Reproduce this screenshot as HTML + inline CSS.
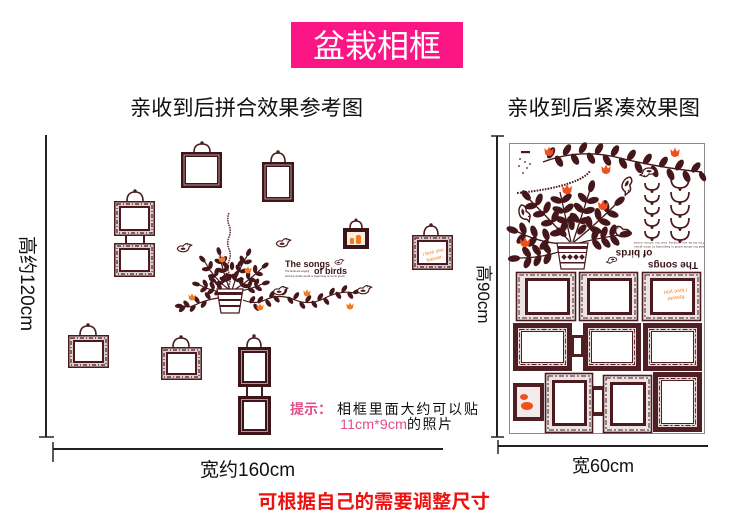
<!DOCTYPE html>
<html><head><meta charset="utf-8">
<style>
html,body{margin:0;padding:0;background:#fff;}
svg{display:block;}
text{font-family:"Liberation Sans","Noto Sans CJK SC",sans-serif;}
</style></head><body>
<svg width="750" height="524" viewBox="0 0 750 524" xmlns="http://www.w3.org/2000/svg">
<defs>
 <ellipse id="L" cx="4" cy="0" rx="4.1" ry="2.2" fill="#45161a"/>
 <path id="F" d="M-3,0 L-3.6,-4.5 L-1.5,-2.6 L0,-5.6 L1.5,-2.6 L3.6,-4.5 L3,0 Q0,3 -3,0Z" fill="#f27a22"/>
 <path id="F2" d="M-3,0 L-3.6,-4.5 L-1.5,-2.6 L0,-5.6 L1.5,-2.6 L3.6,-4.5 L3,0 Q0,3 -3,0Z" fill="#f0501e"/>
 <g id="B">
  <path d="M-7,1 Q-6,-3 -1,-2 Q2,-6 5,-4 L8,-3 L5.5,-1.5 Q5,4 -1,4 Q-5,4 -7,1Z" fill="#fff" stroke="#4a1a1e" stroke-width="1.2"/>
  <path d="M-4,1 Q-1,-2 2,1 Q-1,3 -4,1Z" fill="#4a1a1e"/>
  <circle cx="3.5" cy="-3.3" r="0.6" fill="#4a1a1e"/>
 </g>
</defs>

<!-- Title -->
<rect x="291" y="22" width="172" height="46" fill="#fc1685"/>
<text x="377" y="57" text-anchor="middle" font-size="32" fill="#fff">盆栽相框</text>

<text x="130" y="115" font-size="21" fill="#111" textLength="233" lengthAdjust="spacingAndGlyphs">亲收到后拼合效果参考图</text>
<text x="507" y="115" font-size="21" fill="#111" textLength="193" lengthAdjust="spacingAndGlyphs">亲收到后紧凑效果图</text>

<!-- Left dimension lines -->
<line x1="46" y1="135" x2="46" y2="437" stroke="#222" stroke-width="2"/>
<line x1="39" y1="437" x2="54" y2="437" stroke="#222" stroke-width="1.5"/>
<line x1="53" y1="449" x2="443" y2="449" stroke="#222" stroke-width="2"/>
<line x1="53" y1="442" x2="53" y2="462" stroke="#222" stroke-width="1.5"/>
<text transform="translate(21,236) rotate(90)" font-size="19" fill="#111">高约120cm</text>
<text x="200" y="476" font-size="19" fill="#111">宽约160cm</text>

<!-- Right dimension lines -->
<line x1="497" y1="136" x2="497" y2="437" stroke="#222" stroke-width="2"/>
<line x1="491" y1="136" x2="504" y2="136" stroke="#222" stroke-width="1.5"/>
<line x1="491" y1="437" x2="504" y2="437" stroke="#222" stroke-width="1.5"/>
<line x1="498" y1="446" x2="708" y2="446" stroke="#222" stroke-width="2"/>
<line x1="498" y1="440" x2="498" y2="454" stroke="#222" stroke-width="1.5"/>
<text transform="translate(478,265) rotate(90)" font-size="17" fill="#111">高90cm</text>
<text x="572" y="472" font-size="18" fill="#111">宽60cm</text>

<!-- Bottom red text -->
<text x="258" y="508" font-size="19" font-weight="bold" fill="#ee1111" textLength="232" lengthAdjust="spacingAndGlyphs">可根据自己的需要调整尺寸</text>

<!-- Tips -->
<text x="290" y="414" font-size="14" fill="#e0508a" font-weight="bold">提示：</text>
<text x="337" y="414" font-size="14" fill="#111" textLength="141" lengthAdjust="spacing">相框里面大约可以贴</text>
<text x="340" y="429" font-size="14" fill="#e0508a" font-family="Liberation Mono, monospace" textLength="67" lengthAdjust="spacingAndGlyphs">11cm*9cm</text>
<text x="407" y="429" font-size="14" fill="#111" textLength="45" lengthAdjust="spacing">的照片</text>

<!-- ===== LEFT COMPOSITION ===== -->
<g stroke-linecap="round">
<g fill="none" stroke="#4a1a1e" stroke-width="1.6">
 <path d="M194,152 Q194,144 202,144 Q210,144 210,152"/>
 <path d="M271,162 Q271,153 278,153 Q285,153 285,162"/>
 <path d="M127,201 Q127,192 135,192 Q143,192 143,201"/>
 <path d="M350,228 Q350,221 356,221 Q362,221 362,228"/>
 <path d="M424,235 Q424,226 431,226 Q438,226 438,235"/>
 <path d="M80,335 Q80,326 88,326 Q96,326 96,335"/>
 <path d="M173,347 Q173,338 181,338 Q189,338 189,347"/>
 <path d="M247,347 Q247,338 254,338 Q261,338 261,347"/>
</g>
<g fill="#4a1a1e">
 <circle cx="202" cy="143" r="1.7"/><circle cx="278" cy="152" r="1.7"/>
 <circle cx="135" cy="191" r="1.7"/><circle cx="356" cy="220" r="1.5"/>
 <circle cx="431" cy="225" r="1.7"/><circle cx="88" cy="325" r="1.7"/>
 <circle cx="181" cy="337" r="1.7"/><circle cx="254" cy="336" r="1.7"/>
</g>
</g>

<!-- Frame 1 dark -->
<rect x="181" y="152" width="41" height="36" fill="#3f1418"/>
<rect x="184" y="155" width="35" height="30" fill="none" stroke="#cdb8b8" stroke-width="0.8"/>
<rect x="186" y="157" width="31" height="26" fill="#fff"/>
<!-- Frame 2 dark -->
<rect x="262" y="162" width="32" height="40" fill="#3f1418"/>
<rect x="265" y="165" width="26" height="34" fill="none" stroke="#cdb8b8" stroke-width="0.8"/>
<rect x="267" y="167" width="22" height="30" fill="#fff"/>

<!-- Frame 3 stacked ornate -->
<rect x="125" y="235" width="2" height="9" fill="#4a1a1e"/>
<rect x="143" y="235" width="2" height="9" fill="#4a1a1e"/>
<g>
 <rect x="114.75" y="201.75" width="39.5" height="33.5" fill="#ddd0d0" stroke="#4a1a1e" stroke-width="1.5"/>
 <rect x="117" y="204" width="35" height="29" fill="none" stroke="#4a1a1e" stroke-width="1.2" stroke-dasharray="4 2 1 2"/>
 <rect x="119" y="206" width="31" height="25" fill="#4a1a1e"/>
 <rect x="121" y="208" width="27" height="21" fill="#fff"/>
</g>
<g>
 <rect x="114.75" y="243.75" width="39.5" height="32.5" fill="#ddd0d0" stroke="#4a1a1e" stroke-width="1.5"/>
 <rect x="117" y="246" width="35" height="28" fill="none" stroke="#4a1a1e" stroke-width="1.2" stroke-dasharray="4 2 1 2"/>
 <rect x="119" y="248" width="31" height="24" fill="#4a1a1e"/>
 <rect x="121" y="250" width="27" height="20" fill="#fff"/>
</g>
<!-- Frame 6 ornate -->
<g>
 <rect x="68.75" y="335.75" width="39.5" height="31.5" fill="#ddd0d0" stroke="#4a1a1e" stroke-width="1.5"/>
 <rect x="71" y="338" width="35" height="27" fill="none" stroke="#4a1a1e" stroke-width="1.2" stroke-dasharray="4 2 1 2"/>
 <rect x="73" y="340" width="31" height="23" fill="#4a1a1e"/>
 <rect x="75" y="342" width="27" height="19" fill="#fff"/>
</g>
<!-- Frame 7 ornate -->
<g>
 <rect x="161.75" y="347.75" width="39.5" height="31.5" fill="#ddd0d0" stroke="#4a1a1e" stroke-width="1.5"/>
 <rect x="164" y="350" width="35" height="27" fill="none" stroke="#4a1a1e" stroke-width="1.2" stroke-dasharray="4 2 1 2"/>
 <rect x="166" y="352" width="31" height="23" fill="#4a1a1e"/>
 <rect x="168" y="354" width="27" height="19" fill="#fff"/>
</g>
<!-- Frame 8 stacked dark -->
<rect x="246" y="386" width="2" height="11" fill="#4a1a1e"/>
<rect x="261" y="386" width="2" height="11" fill="#4a1a1e"/>
<rect x="238" y="347" width="33" height="40" fill="#3f1418"/>
<rect x="241.5" y="350.5" width="26" height="33" fill="none" stroke="#cdb8b8" stroke-width="0.8"/>
<rect x="244" y="353" width="21" height="28" fill="#fff"/>
<rect x="238" y="396" width="33" height="39" fill="#3f1418"/>
<rect x="241.5" y="399.5" width="26" height="32" fill="none" stroke="#cdb8b8" stroke-width="0.8"/>
<rect x="244" y="402" width="21" height="27" fill="#fff"/>

<!-- Frame 4 small orange -->
<rect x="343" y="228" width="26" height="21" fill="#3f1418"/>
<rect x="347" y="232" width="18" height="13" fill="#f6efe0"/>
<rect x="350" y="238" width="4" height="6" rx="1.5" fill="#f07a20"/>
<rect x="356" y="235" width="5" height="9" rx="2" fill="#f07a20"/>

<!-- Frame 5 ornate with text -->
<g>
 <rect x="412.75" y="235.75" width="39.5" height="33.5" fill="#d8caca" stroke="#4a1a1e" stroke-width="1.5"/>
 <rect x="415" y="238" width="35" height="29" fill="none" stroke="#4a1a1e" stroke-width="1.2" stroke-dasharray="4 2 1 2"/>
 <rect x="417" y="240" width="31" height="25" fill="#4a1a1e"/>
 <rect x="419" y="242" width="27" height="21" fill="#fff"/>
 <text transform="translate(423,256) rotate(-14)" font-size="5" fill="#f07a20" font-family="Liberation Serif, serif">I love you</text>
 <text transform="translate(427,262) rotate(-14)" font-size="5" fill="#f07a20" font-family="Liberation Serif, serif">forever</text>
</g>

<!-- Left plant -->
<path d="M229,213 q-2.5,6 0,12 q2.5,6 0,12 q-2.5,6 0,12 q2.5,6 0,12 q-2.5,6 0,12 q2.5,6 0,12 l0,5" fill="none" stroke="#6a3a3e" stroke-width="1.6" stroke-dasharray="1.6 0.8"/>
<g fill="none" stroke="#45161a" stroke-width="1.2">
 <path d="M230,290 Q215,280 205,262"/>
 <path d="M230,290 Q222,270 220,255"/>
 <path d="M232,290 Q238,270 247,256"/>
 <path d="M234,290 Q250,280 262,268"/>
 <path d="M234,292 Q250,290 262,284"/>
 <path d="M228,292 Q212,292 200,285"/>
 <path d="M218,298 Q205,300 195,305 Q190,308 183,306"/>
 <path d="M243,300 Q255,305 265,300 Q280,293 295,300 Q310,306 325,298 Q340,290 355,293"/>
</g>
<g>
 <use href="#L" transform="translate(223 283) rotate(-82)"/><use href="#L" transform="translate(223 283) rotate(178)"/>
 <use href="#L" transform="translate(216 276) rotate(-82)"/><use href="#L" transform="translate(216 276) rotate(178)"/>
 <use href="#L" transform="translate(210 269) rotate(-82)"/><use href="#L" transform="translate(210 269) rotate(178)"/>
 <use href="#L" transform="translate(205 262) rotate(-132)"/>
 <use href="#L" transform="translate(227 281) rotate(-56)"/><use href="#L" transform="translate(227 281) rotate(-156)"/>
 <use href="#L" transform="translate(224 272) rotate(-56)"/><use href="#L" transform="translate(224 272) rotate(-156)"/>
 <use href="#L" transform="translate(222 263) rotate(-56)"/><use href="#L" transform="translate(222 263) rotate(-156)"/>
 <use href="#L" transform="translate(220 255) rotate(-106)"/>
 <use href="#L" transform="translate(236 281) rotate(-16)"/><use href="#L" transform="translate(236 281) rotate(-116)"/>
 <use href="#L" transform="translate(240 272) rotate(-16)"/><use href="#L" transform="translate(240 272) rotate(-116)"/>
 <use href="#L" transform="translate(244 263) rotate(-16)"/><use href="#L" transform="translate(244 263) rotate(-116)"/>
 <use href="#L" transform="translate(247 256) rotate(-66)"/>
 <use href="#L" transform="translate(241 285) rotate(12)"/><use href="#L" transform="translate(241 285) rotate(-88)"/>
 <use href="#L" transform="translate(248 279) rotate(12)"/><use href="#L" transform="translate(248 279) rotate(-88)"/>
 <use href="#L" transform="translate(255 273) rotate(12)"/><use href="#L" transform="translate(255 273) rotate(-88)"/>
 <use href="#L" transform="translate(262 268) rotate(-38)"/>
 <use href="#L" transform="translate(248 288) rotate(34)"/><use href="#L" transform="translate(248 288) rotate(-66)"/>
 <use href="#L" transform="translate(255 286) rotate(34)"/><use href="#L" transform="translate(255 286) rotate(-66)"/>
 <use href="#L" transform="translate(262 284) rotate(-16)"/>
 <use href="#L" transform="translate(221 290) rotate(-116)"/><use href="#L" transform="translate(221 290) rotate(144)"/>
 <use href="#L" transform="translate(214 289) rotate(-116)"/><use href="#L" transform="translate(214 289) rotate(144)"/>
 <use href="#L" transform="translate(207 287) rotate(-116)"/><use href="#L" transform="translate(207 287) rotate(144)"/>
 <use href="#L" transform="translate(200 285) rotate(-166)"/>
 <use href="#L" transform="translate(232 270) rotate(-90)"/><use href="#L" transform="translate(230 280) rotate(-120)"/>
 <use href="#L" transform="translate(234 278) rotate(-60)"/><use href="#L" transform="translate(228 268) rotate(-130)"/>
 <use href="#L" transform="translate(238 266) rotate(-50)"/><use href="#L" transform="translate(216 282) rotate(-150)"/>
 <!-- left vine -->
 <use href="#L" transform="translate(210 299) rotate(-125)"/><use href="#L" transform="translate(206 301) rotate(125)"/>
 <use href="#L" transform="translate(199 303) rotate(-125)"/><use href="#L" transform="translate(195 305) rotate(125)"/>
 <use href="#L" transform="translate(189 307) rotate(-130)"/><use href="#L" transform="translate(185 306) rotate(135)"/>
 <use href="#L" transform="translate(183 306) rotate(180)"/>
 <!-- right vine -->
 <use href="#L" transform="translate(250 303) rotate(-55)"/><use href="#L" transform="translate(254 304) rotate(55)"/>
 <use href="#L" transform="translate(258 303) rotate(-55)"/><use href="#L" transform="translate(266 300) rotate(55)"/>
 <use href="#L" transform="translate(270 298) rotate(-60)"/><use href="#L" transform="translate(274 296) rotate(50)"/>
 <use href="#L" transform="translate(282 295) rotate(-55)"/><use href="#L" transform="translate(288 297) rotate(55)"/>
 <use href="#L" transform="translate(294 299) rotate(-55)"/><use href="#L" transform="translate(300 302) rotate(55)"/>
 <use href="#L" transform="translate(306 302) rotate(-55)"/><use href="#L" transform="translate(312 301) rotate(55)"/>
 <use href="#L" transform="translate(318 300) rotate(-55)"/><use href="#L" transform="translate(324 298) rotate(55)"/>
 <use href="#L" transform="translate(330 295) rotate(-60)"/><use href="#L" transform="translate(336 292) rotate(55)"/>
 <use href="#L" transform="translate(342 292) rotate(-55)"/><use href="#L" transform="translate(348 292) rotate(55)"/>
 <use href="#L" transform="translate(353 293) rotate(-20)"/>
</g>
<!-- left pot -->
<path d="M217,289 L243,289 L239,313 L221,313 Z" fill="#fff" stroke="#4a1a1e" stroke-width="1.2"/>
<rect x="218" y="292" width="24" height="3" fill="#4a1a1e"/>
<rect x="219" y="299" width="22" height="2" fill="#4a1a1e"/>
<rect x="220" y="305" width="20" height="2" fill="#4a1a1e"/>
<!-- flowers -->
<use href="#F" transform="translate(222 261)"/>
<use href="#F" transform="translate(248 272)"/>
<use href="#F" transform="translate(192 299)"/>
<use href="#F" transform="translate(260 309)"/>
<use href="#F" transform="translate(307 295)"/>
<use href="#F" transform="translate(350 308)"/>
<!-- birds -->
<use href="#B" transform="translate(184 248) scale(0.95)"/>
<use href="#B" transform="translate(283 243) scale(0.95)"/>
<use href="#B" transform="translate(280 291) scale(0.95)"/>
<use href="#B" transform="translate(364 290) scale(0.95)"/>
<use href="#B" transform="translate(339 262) scale(0.6)"/>
<!-- songs text -->
<text x="285" y="267" font-size="9" font-weight="bold" fill="#3a1418" font-family="Liberation Serif, serif">The songs</text>
<text x="314" y="274" font-size="9" font-weight="bold" fill="#3a1418" font-family="Liberation Serif, serif">of birds</text>
<text x="285" y="272" font-size="2.6" fill="#3a1418">The birds are singing</text>
<text x="285" y="277" font-size="2.6" fill="#3a1418" textLength="60">and the whole world is beginning to come green</text>

<!-- ===== RIGHT SHEET ===== -->
<rect x="509.5" y="143.5" width="195" height="290" fill="#fff" stroke="#8a8a8a" stroke-width="1"/>

<rect x="521" y="151" width="9" height="2.2" fill="#4a1a1e"/>
<g fill="#4a1a1e">
 <circle cx="520" cy="159" r="0.9"/><circle cx="525" cy="162" r="0.9"/><circle cx="519" cy="166" r="0.9"/>
 <circle cx="527" cy="168" r="0.9"/><circle cx="523" cy="173" r="0.9"/><circle cx="530" cy="164" r="0.9"/>
</g>
<path d="M517,193 Q550,190 570,183 Q585,178 590,171" fill="none" stroke="#4a1a1e" stroke-width="2" stroke-dasharray="1.6 1.2"/>
<path d="M543,162 Q580,148 620,158 Q660,168 702,172" fill="none" stroke="#45161a" stroke-width="1.4"/>
<g>
 <use href="#L" transform="translate(548 158) rotate(-60) scale(1.5)"/>
 <use href="#L" transform="translate(556 156) rotate(60) scale(1.5)"/>
 <use href="#L" transform="translate(564 155) rotate(-60) scale(1.5)"/>
 <use href="#L" transform="translate(572 154) rotate(60) scale(1.5)"/>
 <use href="#L" transform="translate(580 153) rotate(-60) scale(1.5)"/>
 <use href="#L" transform="translate(588 153) rotate(60) scale(1.5)"/>
 <use href="#L" transform="translate(596 154) rotate(-60) scale(1.5)"/>
 <use href="#L" transform="translate(604 155) rotate(60) scale(1.5)"/>
 <use href="#L" transform="translate(612 156) rotate(-60) scale(1.5)"/>
 <use href="#L" transform="translate(620 158) rotate(60) scale(1.5)"/>
 <use href="#L" transform="translate(628 160) rotate(-55) scale(1.5)"/>
 <use href="#L" transform="translate(636 162) rotate(65) scale(1.5)"/>
 <use href="#L" transform="translate(644 164) rotate(-55) scale(1.5)"/>
 <use href="#L" transform="translate(652 166) rotate(65) scale(1.5)"/>
 <use href="#L" transform="translate(660 167) rotate(-55) scale(1.5)"/>
 <use href="#L" transform="translate(668 169) rotate(65) scale(1.5)"/>
 <use href="#L" transform="translate(676 170) rotate(-55) scale(1.5)"/>
 <use href="#L" transform="translate(684 171) rotate(65) scale(1.5)"/>
 <use href="#L" transform="translate(692 172) rotate(-50) scale(1.5)"/>
 <use href="#L" transform="translate(700 172) rotate(60) scale(1.3)"/>
</g>
<use href="#F2" transform="translate(549 154) scale(1.3)"/>
<use href="#F2" transform="translate(606 172) scale(1.3)"/>
<use href="#F2" transform="translate(675 155) scale(1.3)"/>

<g fill="none" stroke="#4a1a1e" stroke-width="1.7">
 <path d="M645,183 Q645,190 652,190 Q659,190 659,183"/>
 <path d="M645,195 Q645,202 652,202 Q659,202 659,195"/>
 <path d="M645,207 Q645,214 652,214 Q659,214 659,207"/>
 <path d="M645,219 Q645,226 652,226 Q659,226 659,219"/>
 <path d="M645,231 Q645,238 652,238 Q659,238 659,231"/>
 <path d="M671,178 Q671,188 680,188 Q689,188 689,178"/>
 <path d="M671,192 Q671,202 680,202 Q689,202 689,192"/>
 <path d="M671,205 Q671,215 680,215 Q689,215 689,205"/>
 <path d="M671,218 Q671,228 680,228 Q689,228 689,218"/>
 <path d="M671,231 Q671,240 680,240 Q689,240 689,231"/>
</g>
<g fill="#4a1a1e">
 <circle cx="652" cy="191.5" r="1.5"/><circle cx="652" cy="203.5" r="1.5"/><circle cx="652" cy="215.5" r="1.5"/>
 <circle cx="652" cy="227.5" r="1.5"/><circle cx="652" cy="239.5" r="1.5"/>
 <circle cx="680" cy="189.5" r="1.5"/><circle cx="680" cy="203.5" r="1.5"/><circle cx="680" cy="216.5" r="1.5"/>
 <circle cx="680" cy="229.5" r="1.5"/><circle cx="680" cy="241.5" r="1.5"/>
</g>

<use href="#B" transform="translate(627 185) rotate(120) scale(1.2)"/>
<use href="#B" transform="translate(524 213) rotate(80) scale(1.2)"/>
<use href="#B" transform="translate(622 232) scale(-1.2 1.2)"/>
<use href="#B" transform="translate(648 172) rotate(180) scale(1)"/>

<!-- right plant -->
<g fill="none" stroke="#45161a" stroke-width="1.3">
 <path d="M572,244 Q545,245 518,232"/>
 <path d="M570,242 Q555,225 530,200"/>
 <path d="M571,242 Q565,215 560,192"/>
 <path d="M573,242 Q582,215 590,190"/>
 <path d="M574,242 Q595,225 615,205"/>
 <path d="M575,244 Q598,238 620,235"/>
 <path d="M570,248 Q545,258 520,258"/>
</g>
<g>
 <use href="#L" transform="translate(548 240) rotate(130) scale(1.5)"/><use href="#L" transform="translate(548 240) rotate(-110) scale(1.5)"/>
 <use href="#L" transform="translate(536 237) rotate(130) scale(1.5)"/><use href="#L" transform="translate(536 237) rotate(-110) scale(1.5)"/>
 <use href="#L" transform="translate(525 234) rotate(130) scale(1.5)"/><use href="#L" transform="translate(525 234) rotate(-110) scale(1.5)"/>
 <use href="#L" transform="translate(518 232) rotate(-160) scale(1.5)"/>
 <use href="#L" transform="translate(562 232) rotate(-70) scale(1.5)"/><use href="#L" transform="translate(562 232) rotate(170) scale(1.5)"/>
 <use href="#L" transform="translate(553 222) rotate(-70) scale(1.5)"/><use href="#L" transform="translate(553 222) rotate(170) scale(1.5)"/>
 <use href="#L" transform="translate(545 213) rotate(-70) scale(1.5)"/><use href="#L" transform="translate(545 213) rotate(170) scale(1.5)"/>
 <use href="#L" transform="translate(537 205) rotate(-70) scale(1.5)"/><use href="#L" transform="translate(537 205) rotate(170) scale(1.5)"/>
 <use href="#L" transform="translate(530 200) rotate(-130) scale(1.5)"/>
 <use href="#L" transform="translate(567 222) rotate(-40) scale(1.5)"/><use href="#L" transform="translate(567 222) rotate(-160) scale(1.5)"/>
 <use href="#L" transform="translate(564 212) rotate(-40) scale(1.5)"/><use href="#L" transform="translate(564 212) rotate(-160) scale(1.5)"/>
 <use href="#L" transform="translate(562 202) rotate(-40) scale(1.5)"/><use href="#L" transform="translate(562 202) rotate(-160) scale(1.5)"/>
 <use href="#L" transform="translate(579 222) rotate(-15) scale(1.5)"/><use href="#L" transform="translate(579 222) rotate(-135) scale(1.5)"/>
 <use href="#L" transform="translate(583 212) rotate(-15) scale(1.5)"/><use href="#L" transform="translate(583 212) rotate(-135) scale(1.5)"/>
 <use href="#L" transform="translate(587 202) rotate(-15) scale(1.5)"/><use href="#L" transform="translate(587 202) rotate(-135) scale(1.5)"/>
 <use href="#L" transform="translate(590 192) rotate(-75) scale(1.5)"/>
 <use href="#L" transform="translate(590 228) rotate(20) scale(1.5)"/><use href="#L" transform="translate(590 228) rotate(-100) scale(1.5)"/>
 <use href="#L" transform="translate(599 220) rotate(20) scale(1.5)"/><use href="#L" transform="translate(599 220) rotate(-100) scale(1.5)"/>
 <use href="#L" transform="translate(607 212) rotate(20) scale(1.5)"/><use href="#L" transform="translate(607 212) rotate(-100) scale(1.5)"/>
 <use href="#L" transform="translate(615 205) rotate(-40) scale(1.5)"/>
 <use href="#L" transform="translate(593 240) rotate(50) scale(1.5)"/><use href="#L" transform="translate(593 240) rotate(-70) scale(1.5)"/>
 <use href="#L" transform="translate(602 238) rotate(50) scale(1.5)"/><use href="#L" transform="translate(602 238) rotate(-70) scale(1.5)"/>
 <use href="#L" transform="translate(611 236) rotate(50) scale(1.5)"/><use href="#L" transform="translate(611 236) rotate(-70) scale(1.5)"/>
 <use href="#L" transform="translate(620 235) rotate(-10) scale(1.5)"/>
 <use href="#L" transform="translate(550 253) rotate(115) scale(1.5)"/><use href="#L" transform="translate(550 253) rotate(-125) scale(1.5)"/>
 <use href="#L" transform="translate(540 255) rotate(115) scale(1.5)"/><use href="#L" transform="translate(540 255) rotate(-125) scale(1.5)"/>
 <use href="#L" transform="translate(530 257) rotate(115) scale(1.5)"/><use href="#L" transform="translate(530 257) rotate(-125) scale(1.5)"/>
 <use href="#L" transform="translate(520 258) rotate(175) scale(1.5)"/>
 <use href="#L" transform="translate(572 230) rotate(-95) scale(1.5)"/>
 <use href="#L" transform="translate(578 234) rotate(-50) scale(1.5)"/>
 <use href="#L" transform="translate(566 236) rotate(-140) scale(1.5)"/>
</g>
<use href="#F2" transform="translate(567 192) scale(1.4)"/>
<use href="#F2" transform="translate(603 208) scale(1.4)"/>
<use href="#F2" transform="translate(525 245) scale(1.4)"/>
<path d="M557,243 L588,243 L584,269 L561,269 Z" fill="#fff" stroke="#4a1a1e" stroke-width="1.2"/>
<rect x="558" y="246" width="29" height="3" fill="#4a1a1e"/>
<rect x="559" y="252" width="27" height="1" fill="#4a1a1e"/>
<g fill="#4a1a1e">
 <rect x="562" y="255" width="4" height="4" transform="rotate(45 564 257)"/>
 <rect x="568" y="255" width="4" height="4" transform="rotate(45 570 257)"/>
 <rect x="574" y="255" width="4" height="4" transform="rotate(45 576 257)"/>
 <rect x="580" y="255" width="4" height="4" transform="rotate(45 582 257)"/>
</g>
<rect x="560" y="262" width="25" height="1.5" fill="#4a1a1e"/>

<text transform="translate(673,262) rotate(180)" text-anchor="middle" font-size="10" font-weight="bold" fill="#3a1418" font-family="Liberation Serif, serif">The songs</text>
<text transform="translate(634,250) rotate(180)" text-anchor="middle" font-size="10" font-weight="bold" fill="#3a1418" font-family="Liberation Serif, serif">of birds</text>
<text transform="translate(669,242) rotate(180)" text-anchor="middle" font-size="2.8" fill="#3a1418" textLength="70">The birds are singing and the whole world</text>
<text transform="translate(669,246) rotate(180)" text-anchor="middle" font-size="2.8" fill="#3a1418" textLength="70">and the whole world is beginning to come green</text>
<use href="#B" transform="translate(612 260) rotate(180) scale(0.7)"/>

<!-- Row 1 light -->
<g>
 <rect x="516.5" y="272.5" width="59" height="48" fill="#ece4e4" stroke="#4a1a1e" stroke-width="1.6"/>
 <rect x="519" y="275" width="54" height="43" fill="none" stroke="#4a1a1e" stroke-width="1" stroke-dasharray="5 2 2 2"/>
 <rect x="525" y="278" width="45" height="37" fill="#4a1a1e"/>
 <rect x="528" y="281" width="39" height="31" fill="#fff"/>
</g>
<g>
 <rect x="579.5" y="272.5" width="58" height="48" fill="#ece4e4" stroke="#4a1a1e" stroke-width="1.6"/>
 <rect x="582" y="275" width="53" height="43" fill="none" stroke="#4a1a1e" stroke-width="1" stroke-dasharray="5 2 2 2"/>
 <rect x="587" y="278" width="45" height="37" fill="#4a1a1e"/>
 <rect x="590" y="281" width="39" height="31" fill="#fff"/>
</g>
<g>
 <rect x="642.5" y="272.5" width="58" height="48" fill="#ece4e4" stroke="#4a1a1e" stroke-width="1.6"/>
 <rect x="645" y="275" width="53" height="43" fill="none" stroke="#4a1a1e" stroke-width="1" stroke-dasharray="5 2 2 2"/>
 <rect x="650" y="278" width="45" height="37" fill="#4a1a1e"/>
 <rect x="653" y="281" width="39" height="31" fill="#fff"/>
 <text transform="translate(687,288) rotate(172)" font-size="5.5" fill="#f07a20" font-family="Liberation Serif, serif">I love you</text>
 <text transform="translate(684,295) rotate(172)" font-size="5.5" fill="#f07a20" font-family="Liberation Serif, serif">forever</text>
</g>

<!-- Row 2 dark -->
<rect x="571" y="335" width="13" height="22" fill="#4f1f24"/>
<rect x="574" y="338" width="7" height="16" fill="#fff"/>
<g>
 <rect x="513" y="323" width="59" height="48" fill="#4f1f24"/>
 <rect x="518" y="328" width="49" height="38" fill="#e6dada"/>
 <rect x="519.5" y="329.5" width="46" height="35" fill="none" stroke="#4f1f24" stroke-width="0.9" stroke-dasharray="5 2 2 2"/>
 <rect x="521.5" y="331.5" width="42" height="31" fill="#fff" stroke="#4f1f24" stroke-width="1"/>
</g>
<g>
 <rect x="583" y="323" width="58" height="48" fill="#4f1f24"/>
 <rect x="588" y="328" width="48" height="38" fill="#e6dada"/>
 <rect x="589.5" y="329.5" width="45" height="35" fill="none" stroke="#4f1f24" stroke-width="0.9" stroke-dasharray="5 2 2 2"/>
 <rect x="591.5" y="331.5" width="41" height="31" fill="#fff" stroke="#4f1f24" stroke-width="1"/>
</g>
<g>
 <rect x="643" y="323" width="59" height="48" fill="#4f1f24"/>
 <rect x="648" y="328" width="49" height="38" fill="#e6dada"/>
 <rect x="649.5" y="329.5" width="46" height="35" fill="none" stroke="#4f1f24" stroke-width="0.9" stroke-dasharray="5 2 2 2"/>
 <rect x="651.5" y="331.5" width="42" height="31" fill="#fff" stroke="#4f1f24" stroke-width="1"/>
</g>

<!-- Row 3 -->
<rect x="513" y="383" width="31" height="38" fill="#4f1f24"/>
<rect x="517" y="387" width="23" height="30" fill="#f3eaea"/>
<ellipse cx="524" cy="397" rx="4" ry="3" fill="#f0501e"/>
<ellipse cx="527" cy="406" rx="6" ry="4" fill="#f0501e"/>

<rect x="591" y="386" width="14" height="30" fill="#4f1f24"/>
<rect x="594" y="390" width="8" height="22" fill="#fff"/>
<g>
 <rect x="545.5" y="373.5" width="47" height="59" fill="#ece4e4" stroke="#4a1a1e" stroke-width="1.6"/>
 <rect x="548" y="376" width="42" height="54" fill="none" stroke="#4a1a1e" stroke-width="1" stroke-dasharray="5 2 2 2"/>
 <rect x="552" y="380" width="35" height="46" fill="#4a1a1e"/>
 <rect x="555" y="383" width="29" height="40" fill="#fff"/>
</g>
<g>
 <rect x="603.5" y="375.5" width="48" height="57" fill="#ece4e4" stroke="#4a1a1e" stroke-width="1.6"/>
 <rect x="606" y="378" width="43" height="52" fill="none" stroke="#4a1a1e" stroke-width="1" stroke-dasharray="5 2 2 2"/>
 <rect x="610" y="382" width="36" height="44" fill="#4a1a1e"/>
 <rect x="613" y="385" width="30" height="38" fill="#fff"/>
</g>
<g>
 <rect x="653" y="372" width="49" height="60" fill="#4f1f24"/>
 <rect x="658" y="377" width="39" height="50" fill="#e6dada"/>
 <rect x="659.5" y="378.5" width="36" height="47" fill="none" stroke="#4f1f24" stroke-width="0.9" stroke-dasharray="5 2 2 2"/>
 <rect x="661.5" y="380.5" width="32" height="43" fill="#fff" stroke="#4f1f24" stroke-width="1"/>
</g>
</svg>
</body></html>
